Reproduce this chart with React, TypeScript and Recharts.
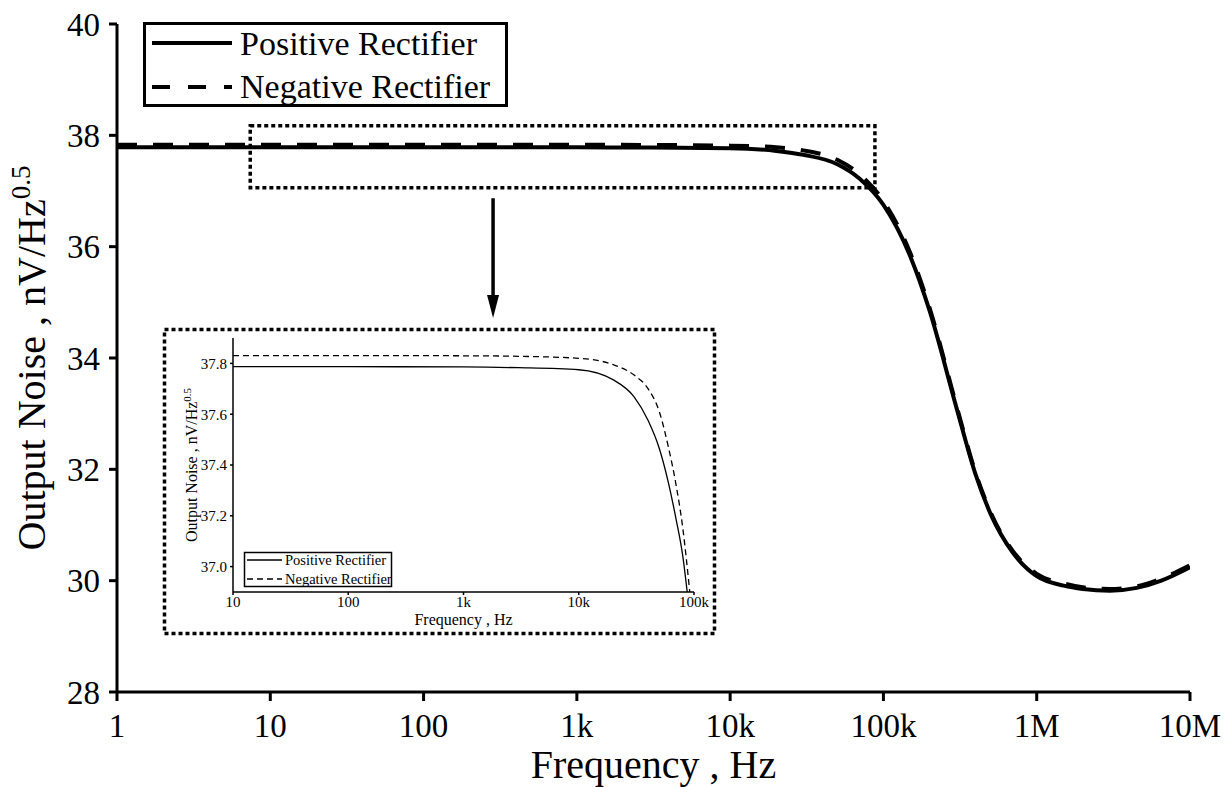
import { LineChart, Line, XAxis, YAxis, ReferenceArea, ReferenceLine } from "recharts";

const FONT = "'Liberation Serif', 'Times New Roman', serif";

// main plot axes
const mainTicks = [1, 10, 100, 1000, 10000, 100000, 1000000, 10000000];
const mainTickLabels = ["1", "10", "100", "1k", "10k", "100k", "1M", "10M"];
const mainYTicks = [28, 30, 32, 34, 36, 38, 40];

// main plot series (Hz -> nV/Hz^0.5)
const mainFreq = [
    1, 10, 100, 1000, 3000, 10000, 20000, 30000, 50000, 70000, 100000, 150000,
    200000, 300000, 400000, 500000, 700000, 1000000, 1500000, 2000000, 3000000,
    4500000, 6500000, 10000000
];
const positiveMain = [
    37.785, 37.785, 37.785, 37.784, 37.78, 37.77, 37.72, 37.65, 37.48, 37.22, 36.75, 35.82,
    34.85, 33.1, 31.9, 31.2, 30.5, 30.08, 29.91, 29.85, 29.82, 29.87, 30.0, 30.24
];
const negativeMain = [
    37.83, 37.83, 37.83, 37.83, 37.827, 37.815, 37.785, 37.73, 37.56, 37.3, 36.82, 35.88,
    34.9, 33.14, 31.93, 31.23, 30.53, 30.12, 29.95, 29.88, 29.85, 29.9, 30.04, 30.28
];

// inset axes
const insetTicks = [10, 100, 1000, 10000, 100000];
const insetTickLabels = ["10", "100", "1k", "10k", "100k"];
const insetYTicks = [37.0, 37.2, 37.4, 37.6, 37.8];

// inset series
const insetPosFreq = [10, 100, 1000, 3000, 10000, 20000, 30000, 40000, 50000, 60000, 70000, 80000, 87300];
const insetPosValues = [37.787, 37.787, 37.786, 37.783, 37.775, 37.735, 37.67, 37.575, 37.465, 37.33, 37.185, 37.04, 36.9];
const insetNegFreq = [10, 100, 1000, 3000, 10000, 20000, 30000, 40000, 50000, 60000, 70000, 80000, 91900];
const insetNegValues = [37.831, 37.831, 37.83, 37.828, 37.82, 37.795, 37.755, 37.7, 37.61, 37.47, 37.32, 37.15, 36.9];

// zoom box + arrow in data units
const zoomBoxFreq = [7.4, 88000];
const zoomBoxLevel = [37.06, 38.17];
const arrowFreq = 284;
const arrowLevel = [36.87, 34.72];

const toRows = (f: number[], v: number[]) => f.map((x, i) => ({ f: x, v: v[i] }));

const posMainRows = toRows(mainFreq, positiveMain);
const negMainRows = toRows(mainFreq, negativeMain);
const posInsetRows = toRows(insetPosFreq, insetPosValues);
const negInsetRows = toRows(insetNegFreq, insetNegValues);

const Arrow = (props: any) => {
    const { x1, y1, x2, y2 } = props;
    return (
        <g>
            <line x1={x1} y1={y1} x2={x2} y2={y2 - 18} stroke="#000" strokeWidth={3.5} />
            <polygon points={`${x2 - 6},${y2 - 23} ${x2 + 6},${y2 - 23} ${x2},${y2}`} fill="#000" />
        </g>
    );
};

const mainXTitle = (props: any) => {
    const vb = props.viewBox;
    return (
        <text x={vb.x + vb.width / 2} y={vb.y + 86} textAnchor="middle" fontSize={40} fontFamily={FONT} fill="#000">
            Frequency , Hz
        </text>
    );
};

const mainYTitle = (props: any) => {
    const vb = props.viewBox;
    const x = vb.x + 45;
    const y = vb.y + vb.height / 2;
    return (
        <text x={x} y={y} transform={`rotate(-90, ${x}, ${y})`} textAnchor="middle" fontSize={40} fontFamily={FONT} fill="#000">
            Output Noise , nV/Hz<tspan dy={-15} fontSize={27}>0.5</tspan>
        </text>
    );
};

const insetXTitle = (props: any) => {
    const vb = props.viewBox;
    return (
        <text x={vb.x + vb.width / 2} y={vb.y + 33} textAnchor="middle" fontSize={16} fontFamily={FONT} fill="#000">
            Frequency , Hz
        </text>
    );
};

const insetYTitle = (props: any) => {
    const vb = props.viewBox;
    const x = vb.x + 34;
    const y = vb.y + vb.height / 2;
    return (
        <text x={x} y={y} transform={`rotate(-90, ${x}, ${y})`} textAnchor="middle" fontSize={16} fontFamily={FONT} fill="#000">
            Output Noise , nV/Hz<tspan dy={-6} fontSize={11}>0.5</tspan>
        </text>
    );
};

export default function App() {
    const mainAxisLine = { stroke: "#000", strokeWidth: 3 };
    const insetAxisLine = { stroke: "#000", strokeWidth: 1.5 };

    return (
        <div style={{ position: "absolute", left: 0, top: 0, width: 1225, height: 787, background: "#fff" }}>

            <LineChart width={1225} height={787} margin={{ top: 24, right: 35, bottom: 0, left: 0 }}>
                <XAxis
                    type="number"
                    dataKey="f"
                    scale="log"
                    domain={[1, 10000000]}
                    ticks={mainTicks}
                    tickFormatter={(v: number) => mainTickLabels[mainTicks.indexOf(v)]}
                    height={95}
                    axisLine={mainAxisLine}
                    tickLine={mainAxisLine}
                    tickSize={9}
                    tickMargin={13}
                    tick={{ fill: "#000", fontSize: 33, fontFamily: FONT }}
                    allowDataOverflow
                    label={mainXTitle}
                />
                <YAxis
                    type="number"
                    domain={[28, 40]}
                    ticks={mainYTicks}
                    width={117}
                    axisLine={mainAxisLine}
                    tickLine={mainAxisLine}
                    tickSize={8}
                    tickMargin={9}
                    tick={{ fill: "#000", fontSize: 33, fontFamily: FONT }}
                    allowDataOverflow
                    label={mainYTitle}
                />
                <ReferenceArea
                    x1={zoomBoxFreq[0]}
                    x2={zoomBoxFreq[1]}
                    y1={zoomBoxLevel[0]}
                    y2={zoomBoxLevel[1]}
                    fill="none"
                    stroke="#000"
                    strokeWidth={3.5}
                    strokeDasharray="4 3"
                />
                <ReferenceLine
                    segment={[{ x: arrowFreq, y: arrowLevel[0] }, { x: arrowFreq, y: arrowLevel[1] }]}
                    shape={Arrow}
                />
                <Line data={negMainRows} dataKey="v" type="monotone" stroke="#000" strokeWidth={4}
                    strokeDasharray="20 16" dot={false} activeDot={false} isAnimationActive={false} />
                <Line data={posMainRows} dataKey="v" type="monotone" stroke="#000" strokeWidth={4}
                    dot={false} activeDot={false} isAnimationActive={false} />
            </LineChart>

            <div style={{ position: "absolute", left: 163, top: 328 }}>
                <LineChart width={553} height={307} margin={{ top: 10, right: 22, bottom: 0, left: 0 }}>
                    <XAxis
                        type="number"
                        dataKey="f"
                        scale="log"
                        domain={[10, 100000]}
                        ticks={insetTicks}
                        tickFormatter={(v: number) => insetTickLabels[insetTicks.indexOf(v)]}
                        height={43}
                        axisLine={insetAxisLine}
                        tickLine={insetAxisLine}
                        tickSize={3}
                        tickMargin={1}
                        tick={{ fill: "#000", fontSize: 15, fontFamily: FONT }}
                        allowDataOverflow
                        label={insetXTitle}
                    />
                    <YAxis
                        type="number"
                        domain={[36.9, 37.9]}
                        ticks={insetYTicks}
                        tickFormatter={(v: number) => v.toFixed(1)}
                        width={70}
                        axisLine={insetAxisLine}
                        tickLine={insetAxisLine}
                        tickSize={3}
                        tickMargin={3}
                        tick={{ fill: "#000", fontSize: 15, fontFamily: FONT }}
                        allowDataOverflow
                        label={insetYTitle}
                    />
                    <Line data={negInsetRows} dataKey="v" type="monotone" stroke="#000" strokeWidth={1.3}
                        strokeDasharray="6 4" dot={false} activeDot={false} isAnimationActive={false} />
                    <Line data={posInsetRows} dataKey="v" type="monotone" stroke="#000" strokeWidth={1.3}
                        dot={false} activeDot={false} isAnimationActive={false} />
                </LineChart>
            </div>

            <svg width={1225} height={787} style={{ position: "absolute", left: 0, top: 0, pointerEvents: "none" }}>
                {/* main legend */}
                <rect x={144.5} y={23.5} width={362} height={82} fill="#fff" stroke="#000" strokeWidth={3} />
                <line x1={152} y1={43} x2={232} y2={43} stroke="#000" strokeWidth={4} />
                <line x1={152} y1={87} x2={232} y2={87} stroke="#000" strokeWidth={4} strokeDasharray="18 18" />
                <text x={240} y={55} fontSize={34} fontFamily={FONT} fill="#000">Positive Rectifier</text>
                <text x={240} y={98} fontSize={34} fontFamily={FONT} fill="#000">Negative Rectifier</text>

                {/* inset frame */}
                <rect x={164.5} y={329.5} width={550} height={304} fill="none" stroke="#000" strokeWidth={3.5} strokeDasharray="4 3" />

                {/* inset legend */}
                <rect x={244.5} y={552.5} width={147} height={34} fill="#fff" stroke="#000" strokeWidth={1.5} />
                <line x1={247} y1={560} x2={282} y2={560} stroke="#000" strokeWidth={1.5} />
                <line x1={247} y1={579} x2={282} y2={579} stroke="#000" strokeWidth={1.5} strokeDasharray="6 4" />
                <text x={285} y={565} fontSize={14.5} fontFamily={FONT} fill="#000">Positive Rectifier</text>
                <text x={285} y={583.5} fontSize={14.5} fontFamily={FONT} fill="#000">Negative Rectifier</text>
            </svg>
        </div>
    );
}
